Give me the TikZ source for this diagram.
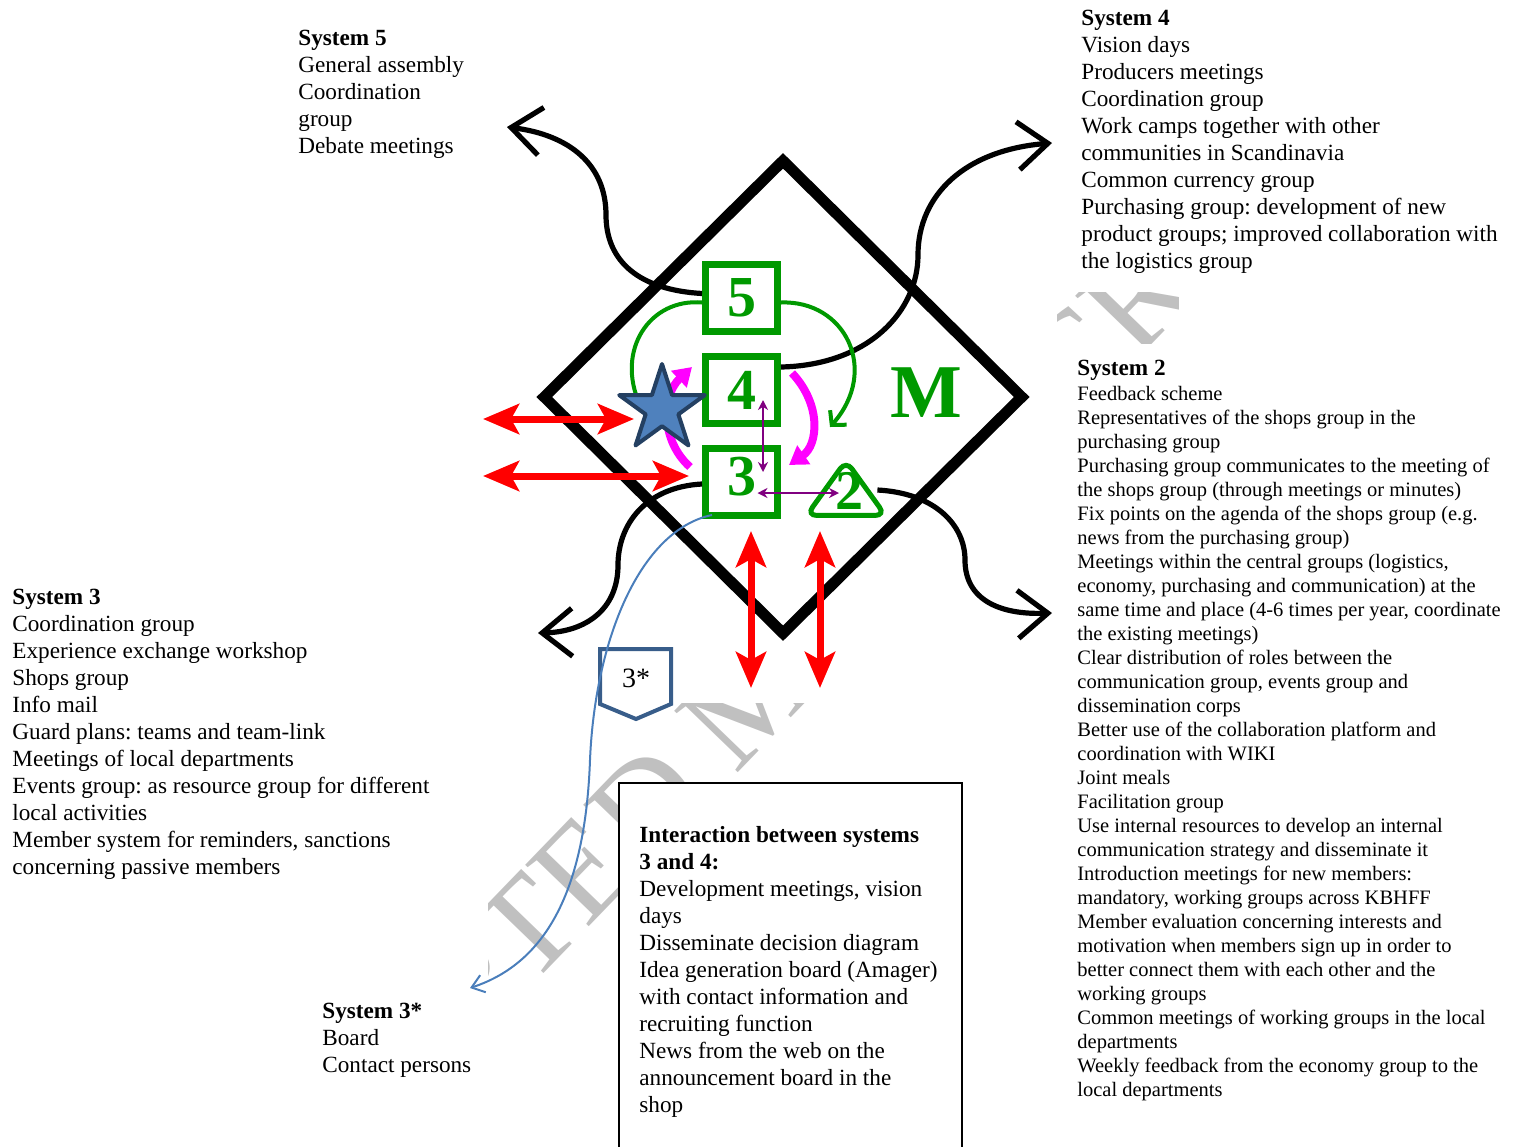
\documentclass[tikz,border=0pt]{standalone}
\usepackage{fontspec}
\setmainfont{Liberation Serif}
\usetikzlibrary{arrows.meta,shapes.geometric}
\definecolor{vsmgreen}{RGB}{0,153,0}
\definecolor{linkpurple}{RGB}{128,0,128}
\definecolor{pinkline}{RGB}{255,0,255}
\definecolor{starblue}{RGB}{79,129,189}
\definecolor{stardark}{RGB}{36,64,98}
\definecolor{pentblue}{RGB}{56,93,138}
\definecolor{curveblue}{RGB}{74,126,187}
\definecolor{wmgray}{RGB}{192,192,192}
\frenchspacing

\begin{document}
\begin{tikzpicture}[x=0.5pt, y=-0.5pt,
  txt/.style={anchor=north west, inner sep=0pt, align=left, font=\fontsize{11.6}{13.5}\selectfont},
  smalltxt/.style={txt, font=\fontsize{10.25}{12}\selectfont},
  sysbox/.style={draw=vsmgreen, line width=3.5pt, minimum width=36pt, minimum height=33.5pt, inner sep=0pt, text=vsmgreen, font=\fontsize{29}{29}\selectfont\bfseries},
  loopline/.style={draw=vsmgreen, line width=2pt},
  bigcurve/.style={line width=2.6pt, -{Straight Barb[length=15pt,width=24pt]}},
  envarrow/.style={red, line width=3.5pt, {Stealth[length=18pt,width=15pt,inset=4pt]}-{Stealth[length=18pt,width=15pt,inset=4pt]}},
  pinkarrow/.style={pinkline, line width=4pt, -{Triangle[length=9pt,width=11pt]}},
  linkarrow/.style={linkpurple, line width=1.25pt, {Stealth[length=5pt,width=5pt]}-{Stealth[length=5pt,width=5pt]}}
]
\useasboundingbox (0,0) rectangle (1517,1147);
%watermark
\begin{scope}
\clip (488,703) -- (1058,703) -- (1058,1147) -- (518,1147) -- (518,996) -- (488,996) -- cycle (1057,292) rectangle (1178,343);
\node [rotate=46, text=wmgray, inner sep=0pt, font=\fontsize{67.5}{70}\selectfont] (wmark) at (752,695) {ACCEPTED MANUSCRIPT};
\end{scope}
%interaction box
\node [draw, line width=0.75pt, fill=white, anchor=north west, outer sep=0pt, inner sep=0pt, minimum width=171.5pt, minimum height=200pt] (ibox) at (619,783) {};
\node [txt] (itext) at (639,823.1) {\strut\textbf{Interaction between systems}\\\textbf{3 and 4:}\\Development meetings, vision\\days\\Disseminate decision diagram\\Idea generation board (Amager)\\with contact information and\\recruiting function\\News from the web on the\\announcement board in the\\shop};
%texts
\node [txt] (s5text) at (298,26.1) {\strut\textbf{System 5}\\General assembly\\Coordination\\group\\Debate meetings};
\node [txt] (s4text) at (1081,6.1) {\strut\textbf{System 4}\\Vision days\\Producers meetings\\Coordination group\\Work camps together with other\\communities in Scandinavia\\Common currency group\\Purchasing group: development of new\\product groups; improved collaboration with\\the logistics group};
\node [txt] (s2title) at (1077,356.1) {\strut\textbf{System 2}};
\node [smalltxt] (s2text) at (1077,383.2) {\strut Feedback scheme\\Representatives of the shops group in the\\purchasing group\\Purchasing group communicates to the meeting of\\the shops group (through meetings or minutes)\\Fix points on the agenda of the shops group (e.g.\\news from the purchasing group)\\Meetings within the central groups (logistics,\\economy, purchasing and communication) at the\\same time and place (4-6 times per year, coordinate\\the existing meetings)\\Clear distribution of roles between the\\communication group, events group and\\dissemination corps\\Better use of the collaboration platform and\\coordination with WIKI\\Joint meals\\Facilitation group\\Use internal resources to develop an internal\\communication strategy and disseminate it\\Introduction meetings for new members:\\mandatory, working groups across KBHFF\\Member evaluation concerning interests and\\motivation when members sign up in order to\\better connect them with each other and the\\working groups\\Common meetings of working groups in the local\\departments\\Weekly feedback from the economy group to the\\local departments};
\node [txt] (s3text) at (12,585.1) {\strut\textbf{System 3}\\Coordination group\\Experience exchange workshop\\Shops group\\Info mail\\Guard plans: teams and team-link\\Meetings of local departments\\Events group: as resource group for different\\local activities\\Member system for reminders, sanctions\\concerning passive members};
\node [txt] (s3stext) at (322,999.1) {\strut\textbf{System 3*}\\Board\\Contact persons};
%diamond
\node [diamond, draw, line width=5.5pt, line join=miter, inner sep=0pt, minimum width=241pt, minimum height=238.5pt] (vsm) at (783,397) {};
\node [text=vsmgreen, font=\fontsize{38}{38}\selectfont\bfseries] (mlabel) at (926,393) {M};
%systems
\node [sysbox] (b5) at (741.5,297.5) {5};
\node [sysbox] (b4) at (741.5,390) {4};
\node [sysbox, text depth=6pt] (b3) at (741.5,482) {3};
\node [minimum width=39pt, minimum height=27pt, inner sep=0pt] (tri) at (846,488) {};
\draw [vsmgreen, line width=2.5pt, rounded corners=5pt] (tri.south) -- (tri.south east) -- (tri.north) -- (tri.south west) -- cycle;
\node [text=vsmgreen, font=\fontsize{28}{28}\selectfont\bfseries] (two) at (849,491) {2};
%free ends
\coordinate (s5end) at (507,127);
\coordinate (s4end) at (1052,143);
\coordinate (s3end) at (538,633);
\coordinate (s2end) at (1052,613);
\coordinate (s3send) at (470,988);
\coordinate (loopleft) at (640,405);
\coordinate (loopright) at (830,427);
%black curves
\draw [bigcurve] ([yshift=2pt]b5.west) .. controls (640,290) and (606,262) .. (606,215) .. controls (606,165) and (570,135) .. (s5end);
\draw [bigcurve] ([yshift=11.5pt]b4.east) .. controls (870,365) and (918,310) .. (918,255) .. controls (918,195) and (965,150) .. (s4end);
\draw [bigcurve] ([yshift=-1pt]b3.west) .. controls (645,487) and (618,525) .. (618,565) .. controls (618,610) and (585,632) .. (s3end);
\draw [bigcurve] ([xshift=-4pt,yshift=-1pt]tri.east) .. controls (935,493) and (965,525) .. (965,560) .. controls (965,600) and (1000,615) .. (s2end);
%green loops
\draw [loopline] ([yshift=-2.5pt]b5.west) .. controls (650,298) and (615,350) .. (loopleft);
\draw [loopline, -{Straight Barb[length=5pt,width=11pt]}] ([yshift=-2.5pt]b5.east) .. controls (845,300) and (880,370) .. (loopright);
%environment arrows
\coordinate (e1a) at (483,419);
\coordinate (e1b) at (634,419);
\coordinate (e2a) at (483,476);
\coordinate (e2b) at (689,476);
\coordinate (e3a) at (751,531);
\coordinate (e3b) at (751,688);
\coordinate (e4a) at (820,531);
\coordinate (e4b) at (820,688);
\draw [envarrow] (e1a) -- (e1b);
\draw [envarrow] (e2a) -- (e2b);
\draw [envarrow] (e3a) -- (e3b);
\draw [envarrow] (e4a) -- (e4b);
%3-4 interaction
\draw [pinkarrow] ([xshift=-6pt,yshift=7.5pt]b3.west) .. controls (660,440) and (662,395) .. ([xshift=-5pt,yshift=11.5pt]b4.west);
\draw [pinkarrow] ([xshift=5.5pt,yshift=8.5pt]b4.east) .. controls (822,405) and (818,445) .. ([xshift=4pt,yshift=8.5pt]b3.east);
\node [star, star points=5, star point ratio=2.618, minimum size=45pt, inner sep=0pt, draw=stardark, fill=starblue, line width=2pt, line join=round] (star) at (662,409) {};
\draw [linkarrow] ([xshift=10.75pt,yshift=-5pt]b4.center) -- ([xshift=10.75pt,yshift=5pt]b3.center);
\draw [linkarrow] ([xshift=8pt,yshift=-5.5pt]b3.center) -- ([xshift=-5pt,yshift=-1pt]two.center);
%3*
\coordinate (p3c) at (636,678);
\draw [pentblue, line width=2pt, line join=miter] ([shift={(-36,-29)}]p3c) -- ([shift={(35,-29)}]p3c) -- ([shift={(35,26)}]p3c) -- ([shift={(0,41)}]p3c) -- ([shift={(-36,26)}]p3c) -- cycle;
\node [font=\fontsize{14}{14}\selectfont] (p3) at (p3c) {3*};
\draw [curveblue, line width=1pt, -{Straight Barb[length=6pt,width=9pt]}] ([xshift=5pt,yshift=2pt]b3.south west) .. controls (640,530) and (595,640) .. (590,760) .. controls (585,900) and (540,965) .. (s3send);
\end{tikzpicture}
\end{document}
